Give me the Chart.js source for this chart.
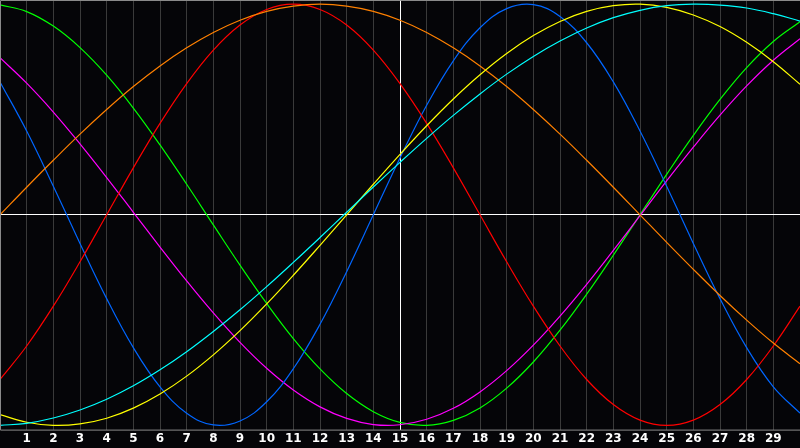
<!DOCTYPE html>
<html>
<head>
<meta charset="utf-8">
<script src="https://cdn.jsdelivr.net/npm/chart.js@4"></script>
<style>
  html, body { margin: 0; padding: 0; background: #050508; }
  #wrap { width: 800px; height: 448px; }
</style>
</head>
<body>
<div id="wrap"><canvas id="chart"></canvas></div>
<script>
// x positions 0..30, one value per unit
const xValues = [0,1,2,3,4,5,6,7,8,9,10,11,12,13,14,15,16,17,18,19,20,21,22,23,24,25,26,27,28,29,30];
const tickLabels = ["","1","2","3","4","5","6","7","8","9","10","11","12","13","14","15","16","17","18","19","20","21","22","23","24","25","26","27","28","29",""];

const greenWave = [0.997,0.965,0.896,0.794,0.663,0.507,0.332,0.145,-0.048,-0.239,-0.421,-0.588,-0.732,-0.849,-0.935,-0.986,-1.0,-0.976,-0.917,-0.823,-0.699,-0.548,-0.377,-0.192,0,0.192,0.377,0.548,0.699,0.823,0.917];
const magentaWave = [0.746,0.625,0.488,0.337,0.177,0.012,-0.153,-0.314,-0.466,-0.606,-0.729,-0.832,-0.912,-0.967,-0.996,-0.997,-0.971,-0.919,-0.841,-0.740,-0.619,-0.481,-0.330,-0.169,-0.004,0.161,0.321,0.473,0.612,0.734,0.836];
const blueWave = [0.631,0.398,0.136,-0.136,-0.398,-0.631,-0.817,-0.942,-0.998,-0.979,-0.888,-0.731,-0.520,-0.270,0,0.270,0.520,0.731,0.888,0.979,0.998,0.942,0.817,0.631,0.398,0.136,-0.136,-0.398,-0.631,-0.817,-0.942];
const redWave = [-0.782,-0.623,-0.434,-0.223,0,0.223,0.434,0.623,0.782,0.901,0.975,1.0,0.975,0.901,0.782,0.623,0.434,0.223,0,-0.223,-0.434,-0.623,-0.782,-0.901,-0.975,-1.0,-0.975,-0.901,-0.782,-0.623,-0.434];
const orangeWave = [0,0.131,0.259,0.383,0.5,0.609,0.707,0.793,0.866,0.924,0.966,0.991,1.0,0.991,0.966,0.924,0.866,0.793,0.707,0.609,0.5,0.383,0.259,0.131,0,-0.131,-0.259,-0.383,-0.5,-0.609,-0.707];
const yellowWave = [-0.949,-0.985,-1.0,-0.993,-0.966,-0.918,-0.851,-0.766,-0.665,-0.550,-0.423,-0.287,-0.145,0,0.145,0.287,0.423,0.550,0.665,0.766,0.851,0.918,0.966,0.993,1.0,0.985,0.949,0.894,0.819,0.727,0.620];
const cyanWave = [-1.0,-0.990,-0.965,-0.927,-0.876,-0.812,-0.736,-0.650,-0.554,-0.451,-0.341,-0.226,-0.108,0.012,0.132,0.249,0.363,0.472,0.574,0.668,0.752,0.825,0.887,0.936,0.971,0.993,1.0,0.996,0.982,0.955,0.92];

function pts(vals) {
  return vals.map((v, i) => ({ x: xValues[i], y: v }));
}

function line(vals, color) {
  return {
    data: pts(vals),
    borderColor: color,
    borderWidth: 1.2,
    pointRadius: 0,
    tension: 0.4,
    fill: false
  };
}

// gray frame round the plot
const framePlugin = {
  id: "frame",
  afterDraw(chart) {
    const { ctx, chartArea } = chart;
    ctx.save();
    ctx.strokeStyle = "#8a8a8a";
    ctx.lineWidth = 1;
    ctx.beginPath();
    ctx.moveTo(chartArea.right, chartArea.top + 0.5);
    ctx.lineTo(chartArea.left + 0.5, chartArea.top + 0.5);
    ctx.lineTo(chartArea.left + 0.5, chartArea.bottom + 0.5);
    ctx.lineTo(chartArea.right, chartArea.bottom + 0.5);
    ctx.stroke();
    ctx.restore();
  }
};

new Chart(document.getElementById("chart"), {
  type: "line",
  data: {
    datasets: [
      line(cyanWave, "#00ffff"),
      line(yellowWave, "#ffff00"),
      line(orangeWave, "#ff8000"),
      line(redWave, "#ff0000"),
      line(blueWave, "#0066ff"),
      line(magentaWave, "#ff00ff"),
      line(greenWave, "#00ff00")
    ]
  },
  options: {
    responsive: true,
    maintainAspectRatio: false,
    devicePixelRatio: 1,
    animation: false,
    layout: { autoPadding: false, padding: 0 },
    plugins: { legend: { display: false }, tooltip: { enabled: false } },
    scales: {
      x: {
        type: "linear",
        min: 0,
        max: 30,
        afterBuildTicks(scale) {
          scale.ticks = xValues.map(v => ({ value: v }));
        },
        afterFit(scale) {
          // no side padding, plot runs edge to edge
          scale.paddingLeft = 0;
          scale.paddingRight = 0;
        },
        ticks: {
          autoSkip: false,
          maxRotation: 0,
          padding: 2,
          color: "#ffffff",
          font: { family: "DejaVu Sans", size: 12, weight: "bold" },
          callback: (v, i) => tickLabels[i]
        },
        grid: {
          drawTicks: false,
          color: c => (c.tick.value === 15 ? "#ffffff" : (c.tick.value === 0 || c.tick.value === 30 ? "rgba(0,0,0,0)" : "#3a3a3a")),
          lineWidth: 1
        },
        border: { display: false }
      },
      y: {
        min: -1.02,
        max: 1.02,
        afterBuildTicks(scale) {
          scale.ticks = [{ value: 0 }];
        },
        ticks: { display: false },
        grid: { drawTicks: false, color: "#ffffff", lineWidth: 1 },
        border: { display: false }
      }
    }
  },
  plugins: [framePlugin]
});
</script>
</body>
</html>
